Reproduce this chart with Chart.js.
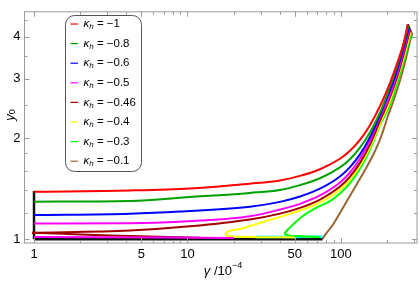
<!DOCTYPE html>
<html>
<head>
<meta charset="utf-8">
<script src="https://cdn.jsdelivr.net/npm/chart.js@4"></script>
<style>
html, body { margin: 0; padding: 0; background: #fff; }
</style>
</head>
<body>
<canvas id="chart" width="420" height="284"></canvas>
<script>
// axis ticks (gamma in units of 1e-4, y0 on log scale)
const xTickValues = [1, 5, 10, 50, 100];
const xMinorTicks = [2, 3, 4, 6, 7, 8, 9, 20, 30, 40, 60, 70, 80, 90, 200, 300];
const yTickValues = [1, 2, 3, 4];
const yMinorTicks = [1.2, 1.4, 1.6, 1.8, 2.5, 3.5, 4.5];

const kappaLabels = ['\u22121', '\u22120.8', '\u22120.6', '\u22120.5', '\u22120.46', '\u22120.4', '\u22120.3', '\u22120.1'];

// upper branches, [gamma, y0]
const curveK1 = [[1,1.384],[4.22,1.396],[10.38,1.415],[25.5,1.462],[40.05,1.495],[54.06,1.543],[72.98,1.615],[98.51,1.735],[114.5,1.832],[133,1.974],[154.5,2.184],[179.5,2.486],[208.6,2.914],[235.1,3.386],[257.3,3.867],[272,4.358]];
const curveK08 = [[1,1.293],[4.22,1.299],[10.38,1.334],[25.5,1.373],[40.05,1.401],[54.06,1.448],[72.98,1.518],[98.51,1.636],[114.5,1.730],[133,1.872],[154.5,2.078],[179.5,2.378],[187.8,2.499],[215.6,2.962],[240.5,3.443],[260.8,3.925],[274.5,4.315]];
const curveK06 = [[1,1.18],[4.22,1.191],[8.93,1.209],[25.5,1.249],[40.05,1.291],[54.06,1.340],[72.98,1.414],[98.51,1.537],[114.5,1.638],[133,1.788],[154.5,2.012],[179.5,2.341],[193.5,2.548],[220.5,2.962],[244.1,3.443],[264.3,3.925],[277.3,4.273]];
const curveK05 = [[1,1.1125],[4.22,1.115],[8.93,1.127],[25.5,1.170],[40.05,1.225],[54.06,1.274],[72.98,1.349],[98.51,1.475],[114.5,1.579],[133,1.735],[154.5,1.967],[179.5,2.313],[197.9,2.532],[224.8,2.962],[247.8,3.443],[267.9,3.925],[279,4.231]];
const curveK046 = [[0.97,1.045],[4.22,1.061],[10.38,1.092],[25.5,1.144],[40.05,1.191],[54.06,1.239],[72.98,1.312],[98.51,1.434],[114.5,1.535],[133,1.687],[154.5,1.912],[179.5,2.249],[200.9,2.532],[228.2,2.962],[251.6,3.443],[271.5,3.925],[281.5,4.19]];
const curveK04 = [[17.55,1.038],[18.36,1.054],[21.98,1.0725],[31.04,1.125],[46.53,1.189],[65.71,1.257],[84.8,1.336],[98.51,1.406],[114.5,1.505],[133,1.654],[154.5,1.876],[179.5,2.205],[205.5,2.532],[229.9,2.962],[255.4,3.443],[275.3,3.925],[284.5,4.149]];
const curveK03 = [[42.7,1.038],[44.48,1.061],[46.53,1.084],[56.8,1.174],[69.46,1.241],[84.8,1.297],[98.51,1.367],[114.5,1.467],[133,1.619],[154.5,1.845],[179.5,2.184],[210.2,2.532],[235.1,2.962],[259.3,3.443],[279,3.925],[287.5,4.103]];
const curveK01 = [[75.8,1.003],[81.07,1.047],[89.1,1.108],[98.51,1.197],[109.4,1.299],[121.5,1.410],[135,1.530],[150,1.666],[164.1,1.802],[178.2,1.961],[190.6,2.136],[202.4,2.325],[216.5,2.532],[242.3,2.962],[265.1,3.443],[283.6,3.925],[290.1,4.055]];

// lower branches
const lowerK05 = [[1,1.015],[8,1.011],[20,1.008]];
const lowerK046 = [[0.97,1.045],[2,1.033],[4.9,1.02],[12.1,1.01]];
const lowerK04 = [[17.55,1.038],[18.36,1.023],[21.98,1.016],[34.5,1.013],[50,1.012]];
const lowerK03 = [[42.7,1.038],[45.8,1.026],[54.1,1.02],[73,1.0145]];

const cyanPiece = [[28,1.015],[76,1.017]];
const blackBottom = [[1,1.0],[76,1.0]];
const blackLeft = [[1,1.0],[1,1.39]];
const blackTop = [[272,4.358],[290.1,4.055]];

const curves = [curveK1, curveK08, curveK06, curveK05, curveK046, curveK04, curveK03, curveK01];
const curveColors = ['#ff0000', '#00a000', '#0000ff', '#ff00ff', '#a00000', '#ffff00', '#00ff00', '#996633'];

const FONT = '"Liberation Sans", Arial, sans-serif';

function toXY(arr) {
    return arr.map(p => ({x: p[0], y: p[1]}));
}
function line(arr, color, width, smooth) {
    let ds = {data: toXY(arr), borderColor: color, borderWidth: width, showLine: true, pointRadius: 0};
    if (smooth === 'mono') ds.cubicInterpolationMode = 'monotone';
    else if (smooth) ds.tension = smooth;
    return ds;
}

let datasets = [];
datasets.push(line(lowerK05, curveColors[3], 2, 0.3));
datasets.push(line(lowerK046, curveColors[4], 2, 0.3));
datasets.push(line(lowerK04, curveColors[5], 2, 0.45));
datasets.push(line(lowerK03, curveColors[6], 2, 0.45));
curves.forEach((c, i) => datasets.push(line(c, curveColors[i], 2, 'mono')));
datasets.push(line(cyanPiece, '#00ffff', 2.5));
[blackBottom, blackLeft, blackTop].forEach(b => datasets.push(line(b, '#111', 2.5)));

function drawRuns(ctx, runs, x, y) {
    runs.forEach(r => {
        ctx.font = r.font;
        ctx.fillText(r.text, x, y + (r.dy || 0));
        x += ctx.measureText(r.text).width;
    });
    return x;
}
function runsWidth(ctx, runs) {
    let w = 0;
    runs.forEach(r => { ctx.font = r.font; w += ctx.measureText(r.text).width; });
    return w;
}

const framePlugin = {
    id: 'frame',
    afterDraw(chart) {
        const ctx = chart.ctx;
        const a = chart.chartArea;
        const xs = chart.scales.x, ys = chart.scales.y;
        ctx.save();
        ctx.strokeStyle = '#9a9a9a';
        ctx.lineWidth = 1;
        ctx.strokeRect(a.left, a.top, a.right - a.left, a.bottom - a.top);
        ctx.beginPath();
        xTickValues.concat(xMinorTicks).forEach(v => {
            const px = Math.round(xs.getPixelForValue(v)) + 0.5;
            if (px < a.left || px > a.right) return;
            const len = xTickValues.includes(v) ? 5 : 3;
            ctx.moveTo(px, a.bottom); ctx.lineTo(px, a.bottom - len);
            ctx.moveTo(px, a.top); ctx.lineTo(px, a.top + len);
        });
        yTickValues.concat(yMinorTicks).forEach(v => {
            const py = Math.round(ys.getPixelForValue(v)) + 0.5;
            if (py < a.top || py > a.bottom) return;
            const len = yTickValues.includes(v) ? 5 : 3;
            ctx.moveTo(a.left, py); ctx.lineTo(a.left + len, py);
            ctx.moveTo(a.right, py); ctx.lineTo(a.right - len, py);
        });
        ctx.stroke();

        // axis titles
        ctx.fillStyle = '#000';
        ctx.textBaseline = 'middle';
        ctx.textAlign = 'left';
        const xt = [
            {text: '\u03b3', font: 'italic 13px ' + FONT},
            {text: ' /10', font: '13px ' + FONT},
            {text: '\u22124', font: '9px ' + FONT, dy: -5}
        ];
        drawRuns(ctx, xt, 223 - runsWidth(ctx, xt) / 2, 271);
        const yt = [
            {text: 'y', font: 'italic 13px ' + FONT},
            {text: '0', font: '9px ' + FONT, dy: 3}
        ];
        ctx.save();
        ctx.translate(10, 115);
        ctx.rotate(-Math.PI / 2);
        drawRuns(ctx, yt, -runsWidth(ctx, yt) / 2, 0);
        ctx.restore();

        // legend
        const bx = 65.5, by = 15.5, bw = 76, bh = 156, r = 9;
        ctx.beginPath();
        ctx.moveTo(bx + r, by);
        ctx.lineTo(bx + bw - r, by);
        ctx.arcTo(bx + bw, by, bx + bw, by + r, r);
        ctx.lineTo(bx + bw, by + bh - r);
        ctx.arcTo(bx + bw, by + bh, bx + bw - r, by + bh, r);
        ctx.lineTo(bx + r, by + bh);
        ctx.arcTo(bx, by + bh, bx, by + bh - r, r);
        ctx.lineTo(bx, by + r);
        ctx.arcTo(bx, by, bx + r, by, r);
        ctx.closePath();
        ctx.fillStyle = '#fff';
        ctx.fill();
        ctx.strokeStyle = '#555';
        ctx.stroke();
        kappaLabels.forEach((lab, i) => {
            const y = 24 + i * 19.6;
            ctx.strokeStyle = curveColors[i];
            ctx.lineWidth = 1.2;
            ctx.beginPath();
            ctx.moveTo(70.5, y); ctx.lineTo(78, y);
            ctx.stroke();
            ctx.fillStyle = '#000';
            drawRuns(ctx, [
                {text: '\u03ba', font: 'italic 11.5px ' + FONT},
                {text: 'h', font: 'italic 8px ' + FONT, dy: 3},
                {text: ' = ' + lab, font: '11.5px ' + FONT}
            ], 83.5, y);
        });
        ctx.restore();
    }
};

new Chart(document.getElementById('chart'), {
    type: 'scatter',
    data: {datasets: datasets},
    options: {
        responsive: false,
        animation: false,
        devicePixelRatio: 1,
        layout: {padding: {top: 1, right: 3, left: 0, bottom: 0}},
        plugins: {legend: {display: false}, tooltip: {enabled: false}},
        scales: {
            x: {
                type: 'logarithmic',
                min: 0.867,
                max: 313,
                afterBuildTicks: s => { s.ticks = xTickValues.map(v => ({value: v})); },
                afterFit: s => { s.height = 41; },
                ticks: {
                    callback: v => String(v),
                    font: {family: FONT, size: 13},
                    color: '#000',
                    padding: 4,
                    maxRotation: 0,
                    autoSkip: false
                },
                grid: {display: false, drawTicks: false},
                border: {display: false}
            },
            y: {
                type: 'logarithmic',
                min: 0.974,
                max: 4.75,
                afterBuildTicks: s => { s.ticks = yTickValues.map(v => ({value: v})); },
                afterFit: s => { s.width = 24.5; },
                ticks: {
                    callback: v => String(v),
                    font: {family: FONT, size: 13},
                    color: '#000',
                    padding: 4,
                    autoSkip: false
                },
                grid: {display: false, drawTicks: false},
                border: {display: false}
            }
        }
    },
    plugins: [framePlugin]
});
</script>
</body>
</html>
